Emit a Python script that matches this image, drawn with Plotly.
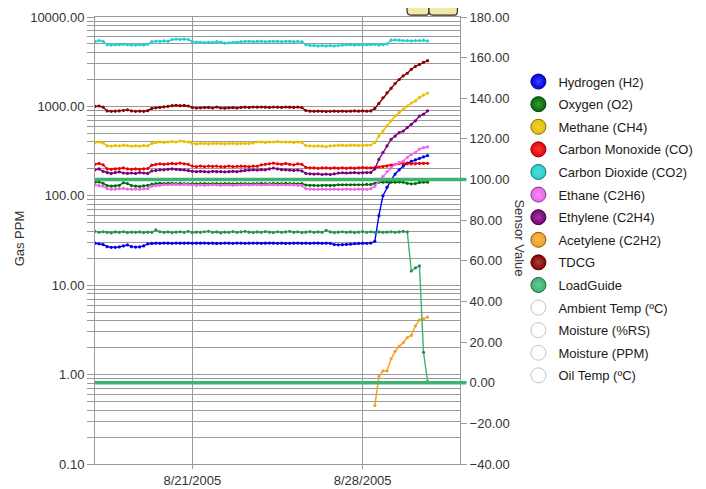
import pandas as pd
import plotly.graph_objects as go

# ---------------- data ----------------
START = "2005-08-17 00:00"
N_POINTS = 83
TIMES = pd.date_range(START, periods=N_POINTS, freq="4h")

HYDROGEN = [29.5, 29.0, 28.5,
            27.0, 26.5, 26.5, 26.8, 27.5,
            28.2,
            27.0, 26.7, 26.8, 27.5,
            29.0, 29.3, 29.5, 29.4, 29.6, 29.5, 29.4, 29.6, 29.5, 29.5,
            29.6, 29.4, 29.5, 29.5, 29.6, 29.4, 29.5, 29.3, 29.4, 29.6,
            29.5, 29.4, 29.6, 29.5, 29.4, 29.5, 29.6, 29.5, 29.4, 29.5,
            29.6, 29.5, 29.4, 29.5, 29.3, 29.4, 29.5, 29.6, 29.4, 29.5,
            29.4, 29.6, 29.5, 29.4, 29.5, 29.4, 28.5, 28.3, 28.4, 28.6,
            28.8, 29.2, 29.4, 29.5, 29.4, 29.6,
            31, 60, 100, 125, 150, 175, 195, 215, 232, 243, 252, 262, 272, 282]

OXYGEN = [142, 143, 138,
          130, 128, 129, 131, 140, 137, 130, 128, 127, 129, 131,
          135, 137, 138, 137, 138,
          138, 137, 138, 137, 136,
          137, 136, 137, 137, 136, 137, 137, 136, 137, 137, 136, 137,
          137, 137, 136, 137, 137, 138, 137, 137, 138, 137, 137, 138, 137, 137, 136, 137,
          132, 131, 131, 130, 131, 131, 130, 131, 133, 133, 133, 133, 133, 133, 133, 134, 134,
          138, 142, 142, 143, 142, 142, 143, 142, 138, 136, 137, 141, 142, 142]

METHANE = [395, 400, 390,
           362, 360, 365, 362, 368, 365, 360, 362, 360, 365, 362,
           385, 395, 400, 395, 400,
           405, 400, 410, 405, 400,
           385, 380, 385, 385, 380, 385, 385, 385, 380, 385, 385, 380,
           385, 385, 385, 390, 400, 400, 395, 400, 400, 405, 400, 400, 400, 395, 400, 395,
           365, 362, 360, 362, 360, 355, 362, 365, 368, 368, 365, 368, 368, 365, 368, 368, 370,
           394, 466, 530, 607, 688, 780, 850, 930, 1010, 1090, 1150, 1260, 1340, 1410]

CARBON_MONOXIDE = [225, 230, 222,
                   200, 198, 200, 202, 205, 200, 198, 200, 198, 200, 202,
                   220, 225, 228, 225, 228,
                   230, 228, 232, 228, 225,
                   215, 212, 215, 212, 215, 213, 215, 212, 212, 215, 212, 214,
                   215, 214, 212, 215, 214, 222, 225, 228, 232, 228, 225, 230, 225, 222, 228, 225,
                   208, 205, 205, 203, 205, 205, 203, 205, 203, 205, 203, 205, 203, 205, 207, 205, 205,
                   207, 210, 212, 215, 220, 225, 230, 230, 228, 227, 228, 230, 230, 231]

CARBON_DIOXIDE = [5300, 5450, 5350,
                  4900, 4850, 4900, 4900, 4950, 4900, 4850, 4850, 4900, 4850, 4950,
                  5300, 5350, 5350, 5400, 5350,
                  5600, 5650, 5600, 5650, 5600,
                  5300, 5250, 5200, 5150, 5200, 5200, 5300, 5250, 5100, 5150, 5200, 5200,
                  5300, 5350, 5350, 5300, 5350, 5350, 5300, 5350, 5350, 5350, 5300, 5350, 5350, 5300, 5350, 5300,
                  4900, 4800, 4800, 4750, 4800, 4750, 4800, 4750, 4800, 4850,
                  4900, 4900, 4850, 4900, 4850, 4900, 4900, 4950, 4850, 4900, 5000,
                  5500, 5550, 5500, 5450, 5450, 5400, 5450, 5450, 5500, 5400]

ETHANE = [132, 130, 128,
          120, 118, 119, 120, 121, 119, 118, 119, 118, 120, 120,
          128, 130, 131, 133, 133,
          134, 134, 133, 134, 133,
          132, 131, 132, 131, 132, 133, 132, 131, 132, 132, 131, 132,
          132, 133, 132, 133, 133, 132, 133, 134, 133, 132, 133, 132, 133, 132, 131, 130,
          120, 119, 118, 118, 119, 118, 118, 119, 118, 118, 119, 118, 118, 119, 118, 118, 120,
          128, 147, 165, 187, 205, 225, 235, 244, 268, 290, 305, 333, 345, 352]

ETHYLENE = [195, 200, 188,
            182, 178, 182, 185, 180, 178, 180, 178, 182, 180, 178,
            190, 192, 195, 195, 198,
            200, 198, 196, 195, 192,
            188, 186, 188, 186, 185, 188, 186, 186, 185, 186, 188, 186,
            190, 192, 194, 195, 194, 196, 195, 200, 204, 200, 196, 195, 194, 192, 194, 190,
            178, 176, 175, 176, 173, 175, 173, 176, 180, 181, 180, 181, 182, 180, 181, 182, 182,
            200, 255, 305, 361, 428, 466, 508, 530, 580, 630, 690, 780, 818, 890]

ACETYLENE = [None] * 69 + [0.45, 0.95, 1.1, 1.1, 1.5, 1.82, 2.07, 2.27, 2.6, 2.75, 3.5, 4.1, 4.2, 4.4]

TDCG = [1000, 1010, 980,
        890, 880, 885, 890, 900, 915, 890, 880, 885, 880, 895,
        950, 965, 975, 990, 1000,
        1020, 1030, 1020, 1025, 1010,
        970, 960, 965, 970, 975, 960, 985, 960, 955, 965, 970, 960,
        975, 980, 975, 985, 980, 985, 980, 975, 985, 980, 975, 985, 980, 975, 985, 970,
        900, 885, 880, 885, 880, 875, 880, 885, 880, 885, 880, 885, 890, 885, 890, 885, 890,
        950, 1080, 1250, 1420, 1600, 1800, 2000, 2200, 2350, 2600, 2800, 2950, 3100, 3250]

LOADGUIDE = [74.5, 74.0, 74.3, 74.0, 73.8, 74.2, 74.0, 74.3, 73.9, 74.1,
             74.0, 74.2, 73.9, 74.1, 74.0, 75.2, 74.3, 74.0, 74.2, 73.9,
             74.1, 74.3, 74.0, 74.5, 73.9, 74.1, 74.0, 74.3, 74.5, 74.0,
             74.2, 73.8, 74.1, 74.0, 74.4, 74.0, 74.2, 74.5, 74.1, 73.9,
             74.2, 74.0, 74.4, 74.1, 73.9, 74.3, 74.0, 74.2, 74.5, 74.0,
             74.3, 73.9, 74.1, 74.4, 74.0, 74.2, 74.0, 75.0, 74.2, 73.9,
             74.1, 74.3, 74.0, 74.2, 73.9, 74.1, 74.4, 74.0, 74.3, 74.0,
             74.2, 74.0, 74.1, 74.3, 74.0, 74.2, 74.5, 74.2,
             55.0, 56.5, 57.5, 15.0, 0.5]

LOADGUIDE_LIMITS = [100, 0]

GAS_SERIES = [
    ("Hydrogen (H2)", HYDROGEN, "#0000EE"),
    ("Oxygen (O2)", OXYGEN, "#006E00"),
    ("Methane (CH4)", METHANE, "#E8C000"),
    ("Carbon Monoxide (CO)", CARBON_MONOXIDE, "#EE0000"),
    ("Carbon Dioxide (CO2)", CARBON_DIOXIDE, "#20D0D0"),
    ("Ethane (C2H6)", ETHANE, "#EE66EE"),
    ("Ethylene (C2H4)", ETHYLENE, "#7A007A"),
    ("Acetylene (C2H2)", ACETYLENE, "#F5A020"),
    ("TDCG", TDCG, "#8B0000"),
]
SENSOR_SERIES = [("LoadGuide", LOADGUIDE, "#3CB371")]
EMPTY_SERIES = ["Ambient Temp (ºC)", "Moisture (%RS)", "Moisture (PPM)", "Oil Temp (ºC)"]

LEFT_DECADES = [0.1, 1, 10, 100, 1000, 10000]
LEFT_LABELS = ["0.10", "1.00", "10.00", "100.00", "1000.00", "10000.00"]
RIGHT_RANGE = [-40, 180]
X_TICKS = ["2005-08-21", "2005-08-28"]
X_LABELS = ["8/21/2005", "8/28/2005"]
X_RANGE = ["2005-08-17 00:00", "2005-09-01 00:00"]

lens = {n: len(v) for n, v, _ in GAS_SERIES + SENSOR_SERIES}
assert all(l == N_POINTS for l in lens.values()), lens

# ---------------- figure ----------------
FONT = "Arial, Liberation Sans, sans-serif"
GRID = "#9a9a9a"
TXT = "#333333"

fig = go.Figure()

# log minor grid/tick positions (1..9 x each decade)
grid_vals, grid_text = [], []
for d, lab in zip(LEFT_DECADES[:-1], LEFT_LABELS[:-1]):
    for k in range(1, 10):
        grid_vals.append(d * k)
        grid_text.append(lab if k == 1 else "")
grid_vals.append(LEFT_DECADES[-1])
grid_text.append(LEFT_LABELS[-1])

for name, vals, col in GAS_SERIES:
    fig.add_trace(go.Scatter(x=TIMES, y=vals, mode="lines+markers", name=name,
                             line=dict(color=col, width=1.4),
                             marker=dict(color=col, size=3.2),
                             showlegend=False, yaxis="y", connectgaps=False))
for name, vals, col in SENSOR_SERIES:
    fig.add_trace(go.Scatter(x=TIMES, y=vals, mode="lines+markers", name=name,
                             line=dict(color=col, width=1.4),
                             marker=dict(color="#2E8B57", size=3.2),
                             showlegend=False, yaxis="y2"))

# legend entries (circles)
def lighten(hexcol, f=0.55):
    h = hexcol.lstrip("#")
    r, g, b = int(h[0:2], 16), int(h[2:4], 16), int(h[4:6], 16)
    r, g, b = [int(c + (255 - c) * f) for c in (r, g, b)]
    return f"#{r:02x}{g:02x}{b:02x}"

def darken(hexcol, f=0.45):
    h = hexcol.lstrip("#")
    r, g, b = int(h[0:2], 16), int(h[2:4], 16), int(h[4:6], 16)
    r, g, b = [int(c * (1 - f)) for c in (r, g, b)]
    return f"#{r:02x}{g:02x}{b:02x}"

for i, (name, _, col) in enumerate(GAS_SERIES + SENSOR_SERIES):
    fig.add_trace(go.Scatter(x=[None], y=[None], mode="markers", name=name,
                             legendgroup=f"g{i}",
                             marker=dict(color=col, size=15,
                                         line=dict(color=darken(col), width=1),
                                         gradient=dict(type="radial", color=lighten(col, 0.25)))))
for j, name in enumerate(EMPTY_SERIES):
    fig.add_trace(go.Scatter(x=[None], y=[None], mode="markers", name=name,
                             legendgroup=f"e{j}",
                             marker=dict(color="white", size=15,
                                         line=dict(color="#c4c4c4", width=1))))

# LoadGuide limit lines on sensor axis
for lim in LOADGUIDE_LIMITS:
    fig.add_shape(type="line", xref="paper", x0=0, x1=1.017, yref="y2", y0=lim, y1=lim,
                  line=dict(color="#3CB371", width=3.5), layer="above")

# decorative tabs at top right
for (a, b) in [(0.855, 0.915), (0.915, 0.993)]:
    fig.add_shape(type="path", xref="paper", yref="paper",
                  path=(f"M {a} 1.06 L {a} 1.013 Q {a} 1.004 {a+0.012} 1.004 "
                        f"L {b-0.008} 1.004 Q {b} 1.004 {b} 1.015 L {b} 1.06 Z"),
                  fillcolor="#F3E9A6", line=dict(color="#2a2a2a", width=1.2), layer="above")

# the page body adds an 8px offset; margins compensate so the plot sits where the reference has it
fig.update_layout(
    width=706, height=489,
    margin=dict(l=87, r=254, t=9, b=33, autoexpand=False),
    paper_bgcolor="white", plot_bgcolor="white",
    font=dict(family=FONT, size=13, color=TXT),
    xaxis=dict(type="date", range=X_RANGE, tickvals=X_TICKS, ticktext=X_LABELS,
               showgrid=True, gridcolor=GRID, gridwidth=1, automargin=False,
               showline=True, linecolor=GRID, linewidth=1, mirror=True,
               ticks="outside", ticklen=4, tickcolor=GRID, zeroline=False),
    yaxis=dict(type="log", range=[-1, 4], tickvals=grid_vals, ticktext=grid_text,
               showgrid=True, gridcolor=GRID, gridwidth=1, automargin=False,
               showline=True, linecolor=GRID, linewidth=1,
               ticks="outside", ticklen=7, tickcolor=GRID, zeroline=False),
    yaxis2=dict(overlaying="y", side="right", range=RIGHT_RANGE, dtick=20,
                tickformat=".2f", showgrid=False, zeroline=False, automargin=False,
                showline=True, linecolor=GRID, linewidth=1,
                ticks="outside", ticklen=6, tickcolor=GRID),
    legend=dict(x=1.160, y=0.889, xanchor="left", yanchor="top",
                traceorder="grouped", tracegroupgap=2.7,
                font=dict(family=FONT, size=13, color="#1a1a1a"),
                itemsizing="trace", bgcolor="rgba(0,0,0,0)"),
    annotations=[
        dict(text="Gas PPM", xref="paper", yref="paper", x=-0.208, y=0.505,
             xanchor="center", yanchor="middle",
             textangle=-90, showarrow=False, font=dict(size=13, color=TXT)),
        dict(text="Sensor Value", xref="paper", yref="paper", x=1.164, y=0.505,
             xanchor="center", yanchor="middle",
             textangle=90, showarrow=False, font=dict(size=13, color=TXT)),
    ],
    showlegend=True,
)

fig.write_html("out.html")
